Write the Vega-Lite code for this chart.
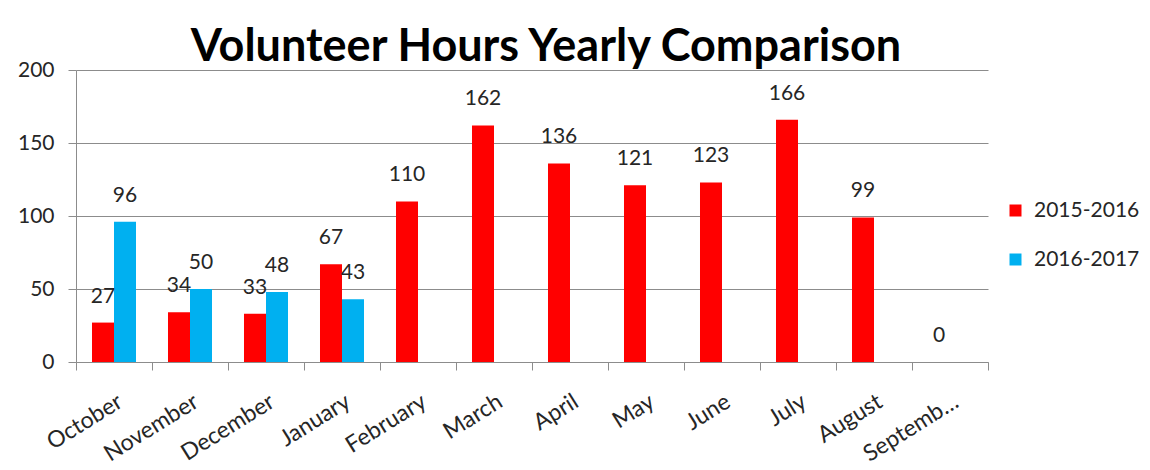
{
  "$schema": "https://vega.github.io/schema/vega-lite/v6.json",
  "width": 912,
  "height": 292,
  "autosize": {"type": "none"},
  "padding": {"left": 76, "top": 70, "right": 162, "bottom": 108},
  "background": "white",
  "config": {
    "view": {"stroke": null},
    "font": "Lato",
    "axis": {"labelFont": "Lato", "labelFontSize": 21, "labelColor": "#262626", "domainColor": "#8c8c8c", "tickColor": "#8c8c8c", "gridColor": "#8c8c8c", "titleFontSize": 0}
  },
  "title": {
    "text": "Volunteer Hours Yearly Comparison",
    "font": "Lato",
    "fontSize": 45,
    "fontWeight": "bold",
    "color": "#000000",
    "anchor": "middle",
    "frame": "group",
    "dx": 14,
    "offset": -11
  },
  "data": {
    "values": [
      {"month": "October", "season": "2015-2016", "hours": 27},
      {"month": "October", "season": "2016-2017", "hours": 96},
      {"month": "November", "season": "2015-2016", "hours": 34},
      {"month": "November", "season": "2016-2017", "hours": 50},
      {"month": "December", "season": "2015-2016", "hours": 33},
      {"month": "December", "season": "2016-2017", "hours": 48},
      {"month": "January", "season": "2015-2016", "hours": 67},
      {"month": "January", "season": "2016-2017", "hours": 43},
      {"month": "February", "season": "2015-2016", "hours": 110},
      {"month": "March", "season": "2015-2016", "hours": 162},
      {"month": "April", "season": "2015-2016", "hours": 136},
      {"month": "May", "season": "2015-2016", "hours": 121},
      {"month": "June", "season": "2015-2016", "hours": 123},
      {"month": "July", "season": "2015-2016", "hours": 166},
      {"month": "August", "season": "2015-2016", "hours": 99},
      {"month": "September", "season": "2015-2016", "hours": 0}
    ]
  },
  "encoding": {
    "x": {
      "field": "month",
      "type": "nominal",
      "sort": ["October", "November", "December", "January", "February", "March", "April", "May", "June", "July", "August", "September"],
      "scale": {"paddingInner": 0, "paddingOuter": 0},
      "axis": {
        "title": null,
        "labelAngle": -32,
        "labelAlign": "right",
        "labelBaseline": "top",
        "labelPadding": 20,
        "labelFontSize": 23,
        "tickBand": "extent",
        "tickSize": 8,
        "labelExpr": "datum.label == 'September' ? 'Septemb…' : datum.label"
      }
    },
    "xOffset": {"field": "season", "type": "nominal", "scale": {"domain": ["2015-2016", "2016-2017"], "paddingInner": 0, "paddingOuter": 0.727}},
    "y": {
      "field": "hours",
      "type": "quantitative",
      "scale": {"domain": [0, 200]},
      "axis": {"title": null, "values": [0, 50, 100, 150, 200], "tickSize": 8, "labelPadding": 14, "grid": true}
    }
  },
  "layer": [
    {
      "mark": {"type": "bar", "stroke": null},
      "encoding": {
        "color": {
          "field": "season",
          "type": "nominal",
          "scale": {"domain": ["2015-2016", "2016-2017"], "range": ["#ff0000", "#00b0f0"]},
          "legend": {
            "title": null,
            "orient": "none",
            "legendX": 929,
            "legendY": 130,
            "symbolType": "square",
            "symbolSize": 144,
            "symbolStrokeWidth": 0,
            "labelFont": "Lato",
            "labelFontSize": 21,
            "labelColor": "#262626",
            "labelOffset": 8,
            "rowPadding": 27,
            "padding": 0
          }
        }
      }
    },
    {
      "mark": {"type": "text", "baseline": "middle", "dy": -26, "fontSize": 21, "color": "#262626", "font": "Lato"},
      "encoding": {"text": {"field": "hours", "type": "quantitative"}}
    }
  ]
}
